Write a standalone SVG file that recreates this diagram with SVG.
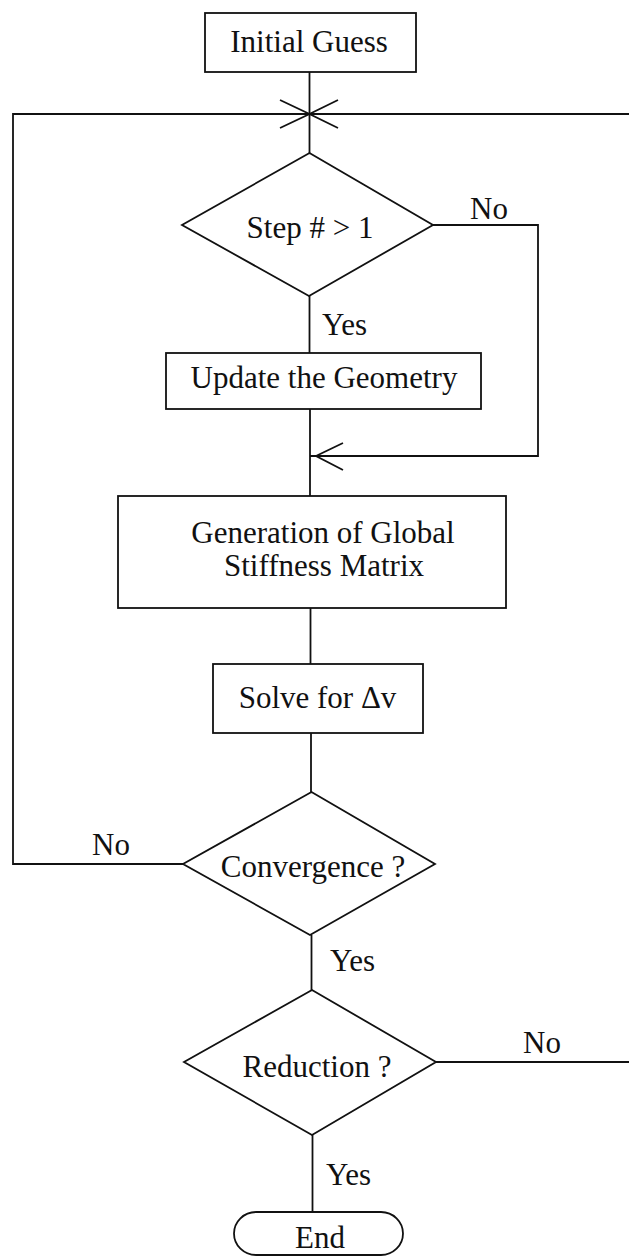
<svg xmlns="http://www.w3.org/2000/svg" width="629" height="1257" viewBox="0 0 629 1257">
<style>
.s{fill:none;stroke:#111;stroke-width:1.8}
.n{fill:#fff;stroke:#111;stroke-width:1.8}
.t{font-family:"Liberation Serif","Times New Roman",serif;font-size:31px;fill:#111}
.m{text-anchor:middle}
</style>
<rect width="629" height="1257" fill="#fff"/>
<g id="connectors">
<line class="s" x1="309.5" y1="72" x2="309.5" y2="153"/>
<polyline class="s" points="629,114 13,114 13,864 183,864"/>
<polyline class="s" points="280,100 309.5,114 280,128"/>
<polyline class="s" points="338,100 309.5,114 338,128"/>
<line class="s" x1="309.5" y1="296" x2="309.5" y2="353"/>
<polyline class="s" points="433,225 538,225 538,456 310,456"/>
<polyline class="s" points="343,443 316,456 343,470"/>
<line class="s" x1="310" y1="409" x2="310" y2="496"/>
<line class="s" x1="310.5" y1="608" x2="310.5" y2="664"/>
<line class="s" x1="311" y1="733" x2="311" y2="792"/>
<line class="s" x1="311.5" y1="935" x2="311.5" y2="990"/>
<line class="s" x1="436" y1="1062" x2="629" y2="1062"/>
<line class="s" x1="312.5" y1="1135" x2="312.5" y2="1212"/>
<text class="t" x="470" y="219">No</text>
<text class="t" x="322" y="335">Yes</text>
<text class="t" x="92" y="855">No</text>
<text class="t" x="330" y="971">Yes</text>
<text class="t" x="523" y="1053">No</text>
<text class="t" x="326" y="1185">Yes</text>
</g>
<g id="initial-guess">
<rect class="n" x="205" y="13" width="211" height="59"/>
<text class="t m" x="309" y="52">Initial Guess</text>
</g>
<g id="step-decision">
<polygon class="n" points="309.5,153 433,225 309,296 182,225"/>
<text class="t m" x="310" y="238">Step # &gt; 1</text>
</g>
<g id="update-geometry">
<rect class="n" x="166" y="353" width="315" height="56"/>
<text class="t m" x="324" y="388">Update the Geometry</text>
</g>
<g id="global-stiffness">
<rect class="n" x="118" y="496" width="388" height="112"/>
<text class="t m" x="323" y="543">Generation of Global</text>
<text class="t m" x="324" y="576">Stiffness Matrix</text>
</g>
<g id="solve">
<rect class="n" x="213" y="664" width="210" height="69"/>
<text class="t m" x="317.5" y="708">Solve for Δv</text>
</g>
<g id="convergence">
<polygon class="n" points="311.5,792 435,864 310,935 183,864"/>
<text class="t m" x="313" y="877">Convergence ?</text>
</g>
<g id="reduction">
<polygon class="n" points="312,990 436,1062 312,1135 184,1062"/>
<text class="t m" x="317" y="1077">Reduction ?</text>
</g>
<g id="end">
<rect class="n" x="234" y="1212" width="169" height="43" rx="22" ry="22"/>
<text class="t m" x="320" y="1248">End</text>
</g>
</svg>
